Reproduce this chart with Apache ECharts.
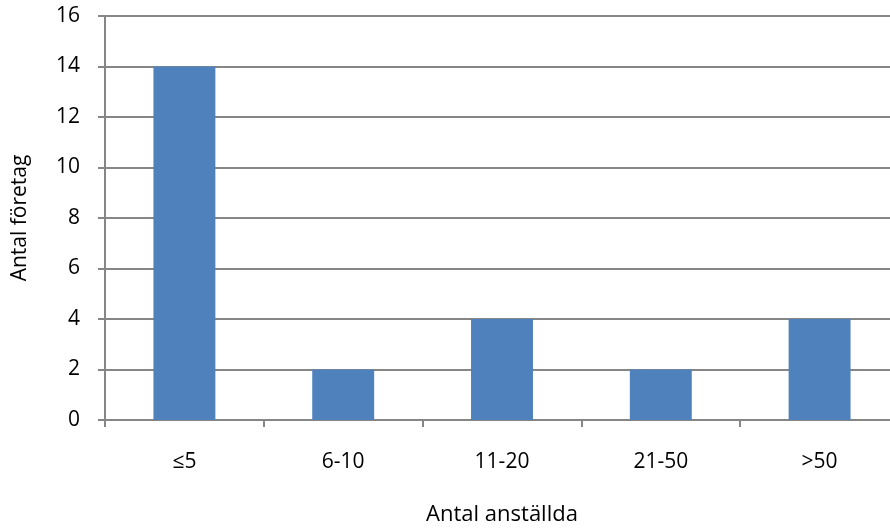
<!DOCTYPE html>
<html><head><meta charset="utf-8">
<script src="https://cdn.jsdelivr.net/npm/echarts@6/dist/echarts.min.js"></script>
<style>html,body{margin:0;padding:0;background:#fff}#c{width:890px;height:528px}</style>
</head><body><div id="c"></div>
<script>
const categories = ['≤5', '6-10', '11-20', '21-50', '>50'];
const values = [14, 2, 4, 2, 4];
const yMin = 0, yMax = 16, yStep = 2;
const xName = 'Antal anställda';
const yName = 'Antal företag';

const font = '"Open Sans", sans-serif';
const chart = echarts.init(document.getElementById('c'), null, {renderer: 'canvas'});
chart.setOption({
  animation: false,
  backgroundColor: '#ffffff',
  grid: {left: 105, width: 794, top: 16, height: 404, containLabel: false, outerBoundsMode: 'none'},
  xAxis: {
    type: 'category', data: categories,
    name: xName, nameLocation: 'middle', nameGap: 84,
    nameTextStyle: {fontFamily: font, fontSize: 22, color: '#000'},
    axisLine: {lineStyle: {color: '#868686', width: 2}},
    axisTick: {show: true, alignWithLabel: false, length: 7, lineStyle: {color: '#868686', width: 2}},
    axisLabel: {fontFamily: font, fontSize: 21, color: '#000', margin: 32}
  },
  yAxis: {
    type: 'value', min: yMin, max: yMax, interval: yStep,
    name: yName, nameLocation: 'middle', nameGap: 74, nameRotate: 90,
    nameTextStyle: {fontFamily: font, fontSize: 21, color: '#000'},
    axisLine: {show: true, lineStyle: {color: '#868686', width: 2}},
    axisTick: {show: true, length: 7, lineStyle: {color: '#868686', width: 2}},
    axisLabel: {fontFamily: font, fontSize: 21, color: '#000', margin: 25},
    splitLine: {show: true, lineStyle: {color: '#868686', width: 2}}
  },
  series: [{
    type: 'bar', data: values, barCategoryGap: '61%',
    itemStyle: {color: '#4F81BD'}
  }]
});
</script></body></html>
